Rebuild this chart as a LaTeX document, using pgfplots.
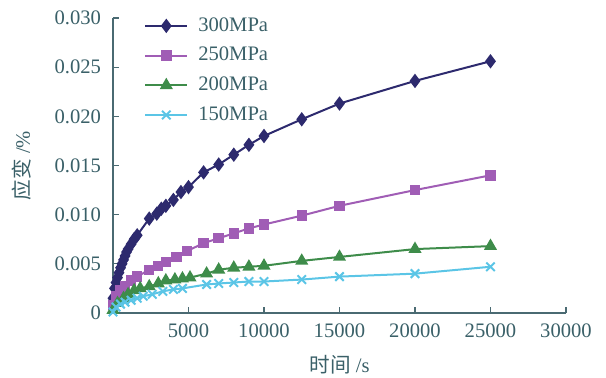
\documentclass[border=0pt]{standalone}
\usepackage{fontspec}
\setmainfont{Liberation Serif}
\newfontfamily\cjk{Noto Sans CJK SC}
\usepackage{pgfplots}
\pgfplotsset{compat=1.18}
\definecolor{cNavy}{HTML}{2D2A6E}
\definecolor{cPurple}{HTML}{A05DB5}
\definecolor{cGreen}{HTML}{3E8C4A}
\definecolor{cCyan}{HTML}{5BC5E6}
\definecolor{cAxis}{HTML}{4A6A72}
\definecolor{cText}{HTML}{3A6068}
\begin{document}
\begin{tikzpicture}
\begin{axis}[
  scale only axis,
  width=226.5pt, height=147.5pt,
  xmin=0, xmax=30000, ymin=0, ymax=0.03,
  axis lines*=left,
  axis line style={cAxis, line width=0.6pt},
  tick style={cAxis, line width=0.6pt},
  tick align=inside,
  major tick length=3pt,
  xtick={5000,10000,15000,20000,25000,30000},
  xticklabels={5000,10000,15000,20000,25000,30000},
  ytick={0,0.005,0.010,0.015,0.020,0.025,0.030},
  yticklabels={0,0.005,0.010,0.015,0.020,0.025,0.030},
  scaled x ticks=false, scaled y ticks=false,
  ticklabel style={font=\fontsize{10.3}{12}\selectfont, text=cText},
  yticklabel style={xshift=-2.5pt},
  xticklabel style={yshift=-2pt},
  xlabel={{\cjk 时间} /s},
  ylabel={{\cjk 应变} /\%},
  label style={text=cText, font=\fontsize{10.3}{12}\selectfont},
  xlabel style={at={(axis description cs:0.5,0)}, anchor=center, yshift=-26pt},
  ylabel style={at={(axis description cs:0,0.5)}, anchor=center, yshift=45.5pt},
  legend style={draw=none, fill=none, at={(axis description cs:0.055,1.03)}, anchor=north west,
    font=\fontsize{10.3}{12}\selectfont, text=cText, row sep=2.5pt,
    nodes={inner xsep=5pt}},
  legend cell align=left,
  legend image code/.code={\draw[mark repeat=2,mark phase=2] plot coordinates {(0pt,0pt)(10.5pt,0pt)(21pt,0pt)};},
  every axis plot/.append style={line width=1pt},
]
\addplot[cNavy, mark=diamond*, mark size=2.8pt, mark options={solid}] coordinates {
(0,0.0015)(100,0.0025)(200,0.0031)(300,0.0036)(400,0.0041)(500,0.0046)(600,0.0050)(700,0.0054)(800,0.0058)(900,0.0062)(1000,0.0065)(1200,0.0070)(1400,0.0075)(1600,0.0079)
(2400,0.0096)(2900,0.0101)(3200,0.0106)(3500,0.0109)(4000,0.0115)(4500,0.0123)(5000,0.0128)(6000,0.0143)(7000,0.0151)(8000,0.0161)(9000,0.0171)(10000,0.0180)(12500,0.0197)(15000,0.0213)(20000,0.0236)(25000,0.0256)
};
\addlegendentry{300MPa}
\addplot[cPurple, mark=square*, mark size=2.1pt] coordinates {
(0,0.0008)(200,0.0017)(500,0.0023)(800,0.0027)(1200,0.0033)(1600,0.0037)(2400,0.0044)(3000,0.0048)(3500,0.0052)(4200,0.0057)(4900,0.0063)(6000,0.0071)(7000,0.0076)(8000,0.0081)(9000,0.0086)(10000,0.0090)(12500,0.0099)(15000,0.0109)(20000,0.0125)(25000,0.0140)
};
\addlegendentry{250MPa}
\addplot[cGreen, mark=triangle*, mark size=2.8pt] coordinates {
(0,0.0003)(300,0.0010)(700,0.0015)(1000,0.0019)(1400,0.0023)(1800,0.0025)(2400,0.0027)(3000,0.0030)(3500,0.0033)(4100,0.0034)(4600,0.0035)(5100,0.0036)(6200,0.0040)(7000,0.0044)(8000,0.0046)(9000,0.0047)(10000,0.0048)(12500,0.0053)(15000,0.0057)(20000,0.0065)(25000,0.0068)
};
\addlegendentry{200MPa}
\addplot[cCyan, mark=x, mark size=3pt, mark options={line width=1pt}] coordinates {
(0,0.0001)(200,0.0006)(500,0.0009)(800,0.0011)(1200,0.0013)(1600,0.0015)(2000,0.0017)(2600,0.0019)(3300,0.0022)(4000,0.0024)(4600,0.0025)(6200,0.0029)(7000,0.0030)(8000,0.0031)(9000,0.0032)(10000,0.0032)(12500,0.0034)(15000,0.0037)(20000,0.0040)(25000,0.0047)
};
\addlegendentry{150MPa}
\end{axis}
\pgfresetboundingbox
\path[use as bounding box] (-56.5pt,-32.5pt) rectangle (246.5pt,156.5pt);
\end{tikzpicture}
\end{document}
